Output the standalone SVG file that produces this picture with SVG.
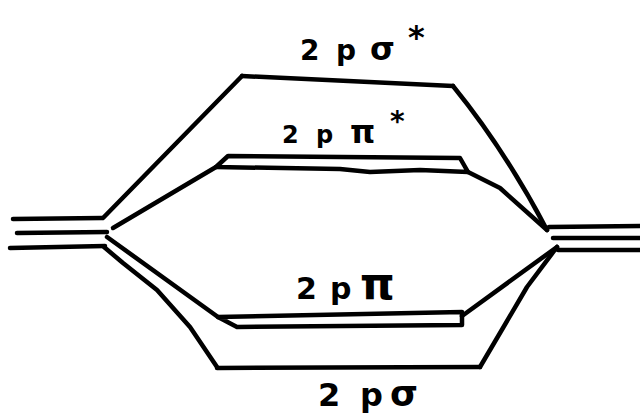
<svg xmlns="http://www.w3.org/2000/svg" width="640" height="415" viewBox="0 0 640 415">
<style>
.l{fill:none;stroke:#000;stroke-width:4.5;stroke-linecap:round;stroke-linejoin:round}
.t{font-family:"DejaVu Sans","Liberation Sans",sans-serif;font-weight:bold;fill:#000}
</style>
<rect width="640" height="415" fill="#fff"/>
<g id="left-atom">
<path class="l" d="M13,219 L102,218 M17,233 L107,232 M10,248 L105,246"/>
</g>
<g id="right-atom">
<path class="l" d="M549,227 L640,226 M553,238 L640,238 M558,250 L640,250"/>
</g>
<g id="sigma-star">
<path class="l" d="M242,76 L453,86"/>
<text class="t" font-size="28" y="60"><tspan x="300">2</tspan><tspan x="336">p</tspan><tspan x="370" font-size="32">σ</tspan><tspan x="408" dy="-12" font-size="32">*</tspan></text>
</g>
<g id="pi-star">
<path class="l" d="M228,156 L460,158 L468,172 L420,170 L370,172 L340,169 L216,167 Z"/>
<text class="t" font-size="24" y="143"><tspan x="282">2</tspan><tspan x="316">p</tspan><tspan x="350" font-size="32">π</tspan><tspan x="390" dy="-12" font-size="28">*</tspan></text>
</g>
<g id="pi">
<path class="l" d="M218,317 L462,312 L462,325 L237,327 Z"/>
<text class="t" font-size="30" y="299"><tspan x="296">2</tspan><tspan x="330">p</tspan><tspan x="360" font-size="44">π</tspan></text>
</g>
<g id="sigma">
<path class="l" d="M217,368 L480,367"/>
<text class="t" font-size="32" y="406"><tspan x="318">2</tspan><tspan x="360">p</tspan><tspan x="390" font-size="36">σ</tspan></text>
</g>
<g id="connectors">
<path class="l" d="M103,218 L242,76"/>
<path class="l" d="M453,86 Q505,150 547,230"/>
<path class="l" d="M113,228 L216,167"/>
<path class="l" d="M468,172 L500,188 L547,230"/>
<path class="l" d="M107,237 L218,317"/>
<path class="l" d="M462,316 L557,247"/>
<path class="l" d="M104,247 L123,263 L157,290 L190,327 L217,367"/>
<path class="l" d="M480,367 L527,287 L557,247"/>
</g>
</svg>
